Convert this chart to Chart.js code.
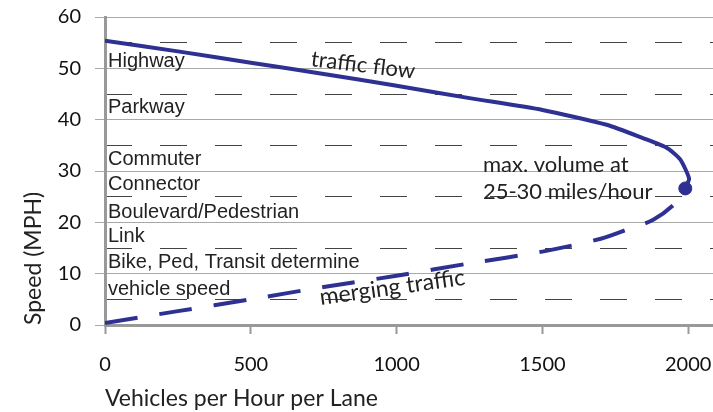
<!DOCTYPE html>
<html>
<head>
<meta charset="utf-8">
<script src="https://cdn.jsdelivr.net/npm/chart.js@4"></script>
<style>
  html, body { margin: 0; padding: 0; background: #fff; }
  #wrap { width: 713px; height: 412px; }
</style>
</head>
<body>
<div id="wrap"><canvas id="speedChart"></canvas></div>
<script>
// ▼ データ
const flowVolume   = [0, 250, 500, 750, 1000, 1250, 1500, 1720, 1845, 1927, 1972, 2003, 1990];
const flowSpeed    = [55.4, 53.3, 51.1, 48.9, 46.6, 44.2, 41.9, 39.0, 36.4, 34.5, 32.3, 28.5, 26.7];
const mergeVolume  = [0, 250, 500, 750, 1000, 1250, 1500, 1700, 1800, 1880, 1950, 1990];
const mergeSpeed   = [0.4, 2.7, 5.0, 7.4, 9.6, 12.0, 14.3, 16.8, 18.8, 20.5, 23.4, 26.5];
const maxPoint     = { x: 1990, y: 26.6 };
const speedTicks   = [0, 10, 20, 30, 40, 50, 60];
const volumeTicks  = [0, 500, 1000, 1500, 2000];
const halfTicks    = [5, 15, 25, 35, 45, 55];

// 道路種別ラベル（速度帯）
const roadTypes  = ['Highway', 'Parkway', 'Commuter', 'Connector', 'Boulevard/Pedestrian', 'Link', 'Bike, Ped, Transit determine', 'vehicle speed'];
const roadSpeeds = [51.4, 42.3, 32.3, 27.3, 22.0, 17.3, 12.1, 7.0];

const BLUE = '#2e3192';
const TEXT = '#222';
const GILL = 'Lato, "Open Sans", sans-serif';

const toPts = (xs, ys) => xs.map((x, i) => ({ x: x, y: ys[i] }));

// 注記テキスト（データ座標）
const notes = [
  { text: 'traffic flow',     x: 885,  y: 50.6, rot: 7,  align: 'center', size: 22 },
  { text: 'merging traffic',  x: 985,  y: 7.3,  rot: -8, align: 'center', size: 23 },
  { text: 'max. volume at',   x: 1296, y: 31.2, rot: 0,  align: 'left',   size: 22 },
  { text: '25-30 miles/hour', x: 1296, y: 25.9, rot: 0,  align: 'left',   size: 22 }
];

const textPlugin = {
  id: 'textPlugin',
  afterDatasetsDraw(chart) {
    const { ctx, scales: { x, y } } = chart;
    ctx.save();
    ctx.fillStyle = TEXT;
    ctx.textBaseline = 'middle';

    // ▼ 左側の道路種別
    ctx.font = '20px "Liberation Sans", Arial, sans-serif';
    ctx.textAlign = 'left';
    roadTypes.forEach((t, i) => {
      ctx.fillText(t, x.getPixelForValue(0) + 3, y.getPixelForValue(roadSpeeds[i]));
    });

    // ▼ 曲線の注記
    notes.forEach(n => {
      ctx.save();
      ctx.translate(x.getPixelForValue(n.x), y.getPixelForValue(n.y));
      ctx.rotate(n.rot * Math.PI / 180);
      ctx.font = n.size + 'px ' + GILL;
      ctx.textAlign = n.align;
      ctx.fillText(n.text, 0, 0);
      ctx.restore();
    });
    ctx.restore();
  }
};

new Chart(document.getElementById('speedChart'), {
  type: 'line',
  data: {
    datasets: [
      {
        label: 'traffic flow',
        data: toPts(flowVolume, flowSpeed),
        borderColor: BLUE,
        borderWidth: 4,
        pointRadius: 0,
        tension: 0.2,
        fill: false
      },
      {
        label: 'merging traffic',
        data: toPts(mergeVolume, mergeSpeed),
        borderColor: BLUE,
        borderWidth: 4,
        borderDash: [33, 22],
        pointRadius: 0,
        tension: 0.3,
        fill: false
      },
      {
        label: 'max',
        type: 'scatter',
        data: [maxPoint],
        backgroundColor: BLUE,
        borderColor: BLUE,
        pointRadius: 6.5
      }
    ]
  },
  options: {
    responsive: true,
    maintainAspectRatio: false,
    animation: false,
    layout: { autoPadding: false, padding: { top: 17, right: 0, left: 0, bottom: 0 } },
    plugins: {
      legend: { display: false },
      tooltip: { enabled: false }
    },
    scales: {
      x: {
        type: 'linear',
        min: 0,
        max: 2085,
        afterBuildTicks(scale) { scale.ticks = volumeTicks.map(v => ({ value: v })); },
        afterFit(scale) {
          scale.height = 87;
          scale.paddingLeft = 0;
          scale.paddingRight = 0;
        },
        ticks: {
          includeBounds: false,
          color: '#111',
          padding: 19,
          font: { size: 20, family: GILL },
          callback: v => String(v)
        },
        grid: {
          drawOnChartArea: false,
          tickLength: 9,
          tickColor: '#999',
          tickWidth: 2
        },
        border: { color: '#999', width: 3 },
        title: {
          display: true,
          text: 'Vehicles per Hour per Lane',
          align: 'start',
          color: TEXT,
          padding: { top: 0, bottom: 0 },
          font: { size: 23, family: GILL }
        }
      },
      y: {
        min: 0,
        max: 60,
        afterBuildTicks(scale) { scale.ticks = speedTicks.map(v => ({ value: v })); },
        afterFit(scale) {
          scale.width = 105;
          scale.paddingTop = 0;
          scale.paddingBottom = 0;
        },
        ticks: {
          color: '#111',
          padding: 14,
          font: { size: 20, family: GILL }
        },
        grid: {
          color: '#a8a8a8',
          lineWidth: 1,
          tickLength: 10,
          tickColor: '#a8a8a8'
        },
        border: { color: '#999', width: 3 },
        title: {
          display: true,
          text: 'Speed (MPH)',
          align: 'start',
          color: TEXT,
          padding: { top: 20, bottom: 0 },
          font: { size: 23, family: GILL }
        }
      },
      // ▼ 5刻みの破線
      yHalf: {
        position: 'left',
        min: 0,
        max: 60,
        afterBuildTicks(scale) { scale.ticks = halfTicks.map(v => ({ value: v })); },
        afterFit(scale) {
          scale.width = 0;
          scale.paddingTop = 0;
          scale.paddingBottom = 0;
        },
        ticks: { display: false },
        grid: {
          color: '#444',
          lineWidth: 1,
          drawTicks: false
        },
        border: { display: false, dash: [27, 28] }
      }
    }
  },
  plugins: [textPlugin]
});
</script>
</body>
</html>
